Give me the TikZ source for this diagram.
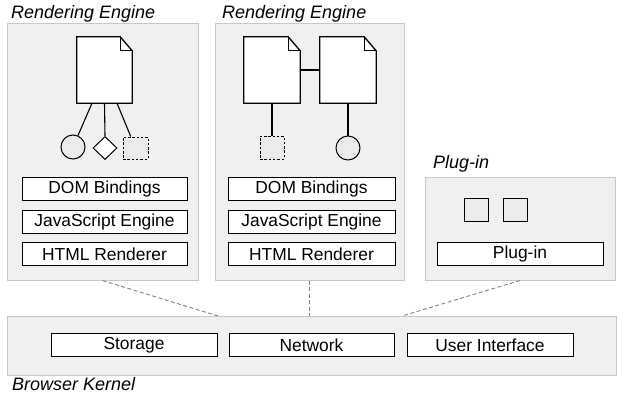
\documentclass[tikz,border=0pt]{standalone}
\usepackage{fontspec}
\setmainfont{Liberation Sans}
\usetikzlibrary{shapes.geometric,calc}
\tikzset{
  panel/.style={draw=black!22, fill=black!6, line width=1pt, inner sep=0pt},
  compbox/.style={draw=black, fill=white, line width=0.9pt, inner sep=0pt, minimum height=23pt, font=\fontsize{17.4}{19}\selectfont},
  title/.style={anchor=base west, inner sep=0pt, font=\fontsize{18}{20}\selectfont\itshape},
  docnode/.style={draw=none, inner sep=0pt, minimum width=55pt, minimum height=66pt},
  docline/.style={draw=black, fill=white, line width=1.3pt, line join=miter},
  link/.style={draw=black, line width=1.1pt},
  ball/.style={circle, draw=black, fill=black!8, line width=1pt, minimum size=24pt, inner sep=0pt},
  rhomb/.style={diamond, draw=black, fill=white, line width=1pt, minimum width=24pt, minimum height=23pt, inner sep=0pt},
  dsq/.style={rectangle, draw=black, fill=black!8, line width=0.9pt, dash pattern=on 2.5pt off 1.8pt, minimum width=24pt, minimum height=23pt, inner sep=0pt},
  ssq/.style={rectangle, draw=black, fill=black!8, line width=0.9pt, minimum width=24pt, minimum height=23pt, inner sep=0pt},
  glue/.style={draw=black!50, line width=0.9pt, dash pattern=on 4pt off 2.5pt}
}
\begin{document}
\begin{tikzpicture}[x=1pt,y=-1pt]
\useasboundingbox (0,0) rectangle (623,397);
% panels
\node[panel, minimum width=191pt, minimum height=257pt] (p1) at (102.5,151.5) {};
\node[panel, minimum width=189pt, minimum height=257pt] (p2) at (309.5,151.5) {};
\node[panel, minimum width=190pt, minimum height=103pt] (pl) at (520,228.5) {};
\node[panel, minimum width=609pt, minimum height=59pt] (k) at (311.5,345.5) {};
% titles
\node[title] (t1) at (11,18) {Rendering Engine};
\node[title] (t2) at (222,18) {Rendering Engine};
\node[title] (t3) at (433,168) {Plug-in};
\node[title] (t4) at (12,390) {Browser Kernel};
% panel 1 boxes
\node[compbox, minimum width=165pt] (dom1) at (104.5,188.5) {DOM Bindings};
\node[compbox, minimum width=165pt] (js1) at (104.5,221.5) {JavaScript Engine};
\node[compbox, minimum width=165pt] (html1) at (104.5,254) {HTML Renderer};
% panel 2 boxes
\node[compbox, minimum width=167pt] (dom2) at (311.5,188.5) {DOM Bindings};
\node[compbox, minimum width=167pt] (js2) at (311.5,221.5) {JavaScript Engine};
\node[compbox, minimum width=167pt] (html2) at (311.5,254) {HTML Renderer};
% plug-in
\node[compbox, minimum width=166pt] (plug) at (520,254) {Plug-in};
\node[ssq] (q1) at (476,209.5) {};
\node[ssq] (q2) at (515.5,209.5) {};
% kernel boxes
\node[compbox, minimum width=166pt] (sto) at (134,345) {Storage};
\node[compbox, minimum width=165pt] (net) at (311.5,345) {Network};
\node[compbox, minimum width=166pt] (ui) at (490,345) {User Interface};
% documents
\node[docnode] (d1) at (104.5,70) {};
\node[docnode, minimum width=56pt] (d2) at (272,70) {};
\node[docnode, minimum width=56pt] (d3) at (348,70) {};
\foreach \d in {d1,d2,d3}{
  \draw[docline] (\d.south west) -- (\d.north west) -- ([xshift=-12pt]\d.north east)
    -- ([yshift=-14pt]\d.north east) -- (\d.south east) -- cycle;
  \draw[black, line width=1pt] ([xshift=-12pt]\d.north east) -- ([xshift=-12pt,yshift=-14pt]\d.north east) -- ([yshift=-14pt]\d.north east);
}
% panel 1 children
\node[ball] (c1) at (73,147) {};
\node[rhomb] (r1) at (105,148) {};
\node[dsq, minimum width=25pt, minimum height=22pt] (s1) at (135.5,148) {};
\draw[link] ([xshift=-12.5pt]d1.south) -- (c1);
\draw[link] (d1.south) -- (r1.north);
\draw[link] ([xshift=12.5pt]d1.south) -- (s1);
% panel 2 children
\node[dsq] (s2) at (272,147.5) {};
\node[ball] (c2) at (348,148) {};
\draw[link] (d2.east) -- (d3.west);
\draw[link] (d2.south) -- (s2.north);
\draw[link] (d3.south) -- (c2.north);
% connections to kernel
\coordinate (k1) at (218,316);
\coordinate (k3) at (402,316);
\draw[glue] (p1.south) -- (k1);
\draw[glue] (p2.south) -- (p2.south |- k.north);
\draw[glue] (pl.south) -- (k3);
\end{tikzpicture}
\end{document}
